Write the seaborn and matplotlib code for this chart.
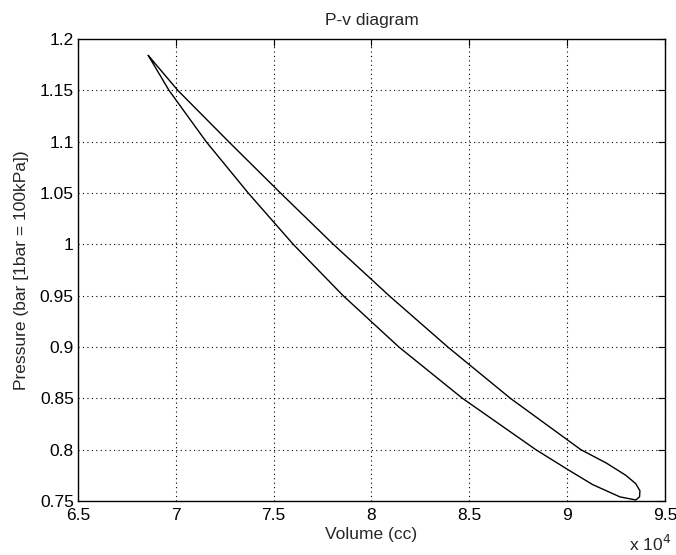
import matplotlib
matplotlib.use("Agg")
import matplotlib.pyplot as plt
import matplotlib.ticker as mticker
import pandas as pd
import seaborn as sns

# Loop (volume in cc, pressure in bar)
# upper branch, top-left tip -> bottom-right tip
upper_volume = [68590, 70100, 72700, 75350, 78050, 80900, 83900,
                87100, 90700, 92000, 93000, 93500, 93720]
upper_pressure = [1.184, 1.150, 1.100, 1.050, 1.000, 0.950, 0.900,
                  0.850, 0.800, 0.787, 0.775, 0.767, 0.760]
# lower branch, bottom-right tip -> back to top-left tip
lower_volume = [93700, 93510, 92700, 91300, 90000, 88400, 84650,
                81400, 78550, 76000, 73700, 71550, 69650, 68590]
lower_pressure = [0.754, 0.751, 0.754, 0.766, 0.781, 0.800, 0.850,
                  0.900, 0.950, 1.000, 1.050, 1.100, 1.150, 1.184]

x_ticks = [65000, 70000, 75000, 80000, 85000, 90000, 95000]
y_ticks = [0.75, 0.8, 0.85, 0.9, 0.95, 1.0, 1.05, 1.1, 1.15, 1.2]

df = pd.DataFrame({
    'volume': upper_volume + lower_volume,
    'pressure': upper_pressure + lower_pressure,
})

sns.set_style("white")
plt.rcParams['font.family'] = ['Liberation Sans', 'DejaVu Sans']

fig = plt.figure(figsize=(6.76, 5.55), dpi=100)
ax = fig.add_axes([0.1154, 0.0973, 0.8683, 0.8324])

sns.lineplot(data=df, x='volume', y='pressure', sort=False, estimator=None,
             color='black', linewidth=1.0, ax=ax)

ax.set_xlim(65000, 95000)
ax.set_ylim(0.75, 1.2)
ax.set_xticks(x_ticks)
ax.set_yticks(y_ticks)
ax.xaxis.set_major_formatter(mticker.FuncFormatter(lambda v, p: f'{v / 1e4:g}'))
ax.yaxis.set_major_formatter(mticker.FuncFormatter(lambda v, p: f'{v:g}'))

ax.grid(True, color='black', linestyle=(0, (1, 3)), linewidth=0.8)
ax.tick_params(direction='in', top=True, right=True, length=5, width=0.8,
               colors='black', labelsize=12.5)
ax.tick_params(axis='x', pad=5)
ax.tick_params(axis='y', pad=3)
for s in ax.spines.values():
    s.set_color('black')
    s.set_linewidth(1.0)

ax.set_title('P-v diagram', fontsize=12.5, pad=10)
ax.set_xlabel('Volume (cc)', fontsize=12.5, labelpad=3)
ax.set_ylabel('Pressure (bar [1bar = 100kPa])', fontsize=12.5, labelpad=8)
fig.text(0.962, 0.002, r'x 10$^4$', fontsize=12.5, ha='center', va='bottom')

fig.savefig('out.png', dpi=100)
